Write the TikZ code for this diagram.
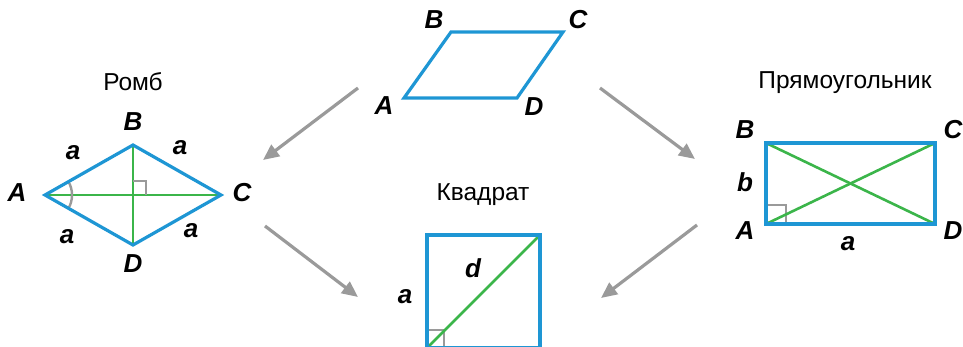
\documentclass[tikz,border=0pt]{standalone}
\usepackage{fontspec}
\setmainfont{Liberation Sans}
\usetikzlibrary{arrows.meta}
\definecolor{figblue}{HTML}{1E96D4}
\definecolor{diaggreen}{HTML}{3BB54A}
\definecolor{arrgray}{HTML}{9A9A9A}
\tikzset{
  side/.style={draw=figblue, line width=3.2pt},
  diag/.style={draw=diaggreen, line width=2.6pt},
  rightmark/.style={draw=arrgray, line width=2.4pt},
  vlabel/.style={font=\fontsize{26}{30}\selectfont\bfseries\itshape},
  figtitle/.style={font=\fontsize{24.5}{28}\selectfont},
  pointer/.style={draw=arrgray, line width=3.2pt, -{Triangle[length=16pt,width=14pt]}},
}
\begin{document}
\begin{tikzpicture}[x=1pt,y=-1pt]
\useasboundingbox (0,0) rectangle (963,347);
% parallelogram
\coordinate (pA) at (404,98);
\coordinate (pB) at (451,32);
\coordinate (pC) at (563,32);
\coordinate (pD) at (517,98);
\draw[side] (pA) -- (pB) -- (pC) -- (pD) -- cycle;
\node[vlabel] (pAl) at (384,106) {A};
\node[vlabel] (pBl) at (434,20) {B};
\node[vlabel] (pCl) at (578,20) {C};
\node[vlabel] (pDl) at (534,107) {D};
% rhombus
\node[figtitle] (rtitle) at (133,82) {Ромб};
\coordinate (rA) at (45,195);
\coordinate (rB) at (133,145);
\coordinate (rC) at (221,195);
\coordinate (rD) at (133,245);
\draw[diag] (rA) -- (rC);
\draw[diag] (rB) -- (rD);
\draw[rightmark] (133,181) -- (146,181) -- (146,195);
\draw[rightmark] (68.5,181.7) arc[start angle=-29.6, end angle=29.6, radius=27];
\draw[side] (rA) -- (rB) -- (rC) -- (rD) -- cycle;
\node[vlabel] (rAl) at (17,193) {A};
\node[vlabel] (rBl) at (133,122) {B};
\node[vlabel] (rCl) at (242,193) {C};
\node[vlabel] (rDl) at (133,264) {D};
\node[vlabel] (ra1) at (73,153) {a};
\node[vlabel] (ra2) at (180,148) {a};
\node[vlabel] (ra3) at (67,237) {a};
\node[vlabel] (ra4) at (191,231) {a};
% square
\node[figtitle] (stitle) at (483,195) {Квадрат};
\coordinate (sA) at (427,348);
\coordinate (sB) at (427,235);
\coordinate (sC) at (540,235);
\coordinate (sD) at (540,348);
\draw[rightmark] (427,330) -- (444,330) -- (444,348);
\draw[diag] (sA) -- (sC);
\draw[side] (sA) -- (sB) -- (sC) -- (sD) -- cycle;
\node[vlabel] (sd) at (473,268) {d};
\node[vlabel] (sa) at (405,297) {a};
% rectangle
\node[figtitle] (qtitle) at (845,83) {Прямоугольник};
\coordinate (qA) at (766,224);
\coordinate (qB) at (766,143);
\coordinate (qC) at (935,143);
\coordinate (qD) at (935,224);
\draw[rightmark] (766,205) -- (786,205) -- (786,224);
\draw[diag] (qA) -- (qC);
\draw[diag] (qB) -- (qD);
\draw[side] (qA) -- (qB) -- (qC) -- (qD) -- cycle;
\node[vlabel] (qBl) at (745,130) {B};
\node[vlabel] (qCl) at (953,130) {C};
\node[vlabel] (qAl) at (745,231) {A};
\node[vlabel] (qDl) at (953,231) {D};
\node[vlabel] (qb) at (745,182) {b};
\node[vlabel] (qa) at (848,244) {a};
% arrows
\coordinate (ar1s) at (358,88);
\coordinate (ar1e) at (263,160);
\coordinate (ar2s) at (600,88);
\coordinate (ar2e) at (695,159);
\coordinate (ar3s) at (265,226);
\coordinate (ar3e) at (358,297);
\coordinate (ar4s) at (697,225);
\coordinate (ar4e) at (601,298);
\draw[pointer] (ar1s) -- (ar1e);
\draw[pointer] (ar2s) -- (ar2e);
\draw[pointer] (ar3s) -- (ar3e);
\draw[pointer] (ar4s) -- (ar4e);
\end{tikzpicture}
\end{document}
